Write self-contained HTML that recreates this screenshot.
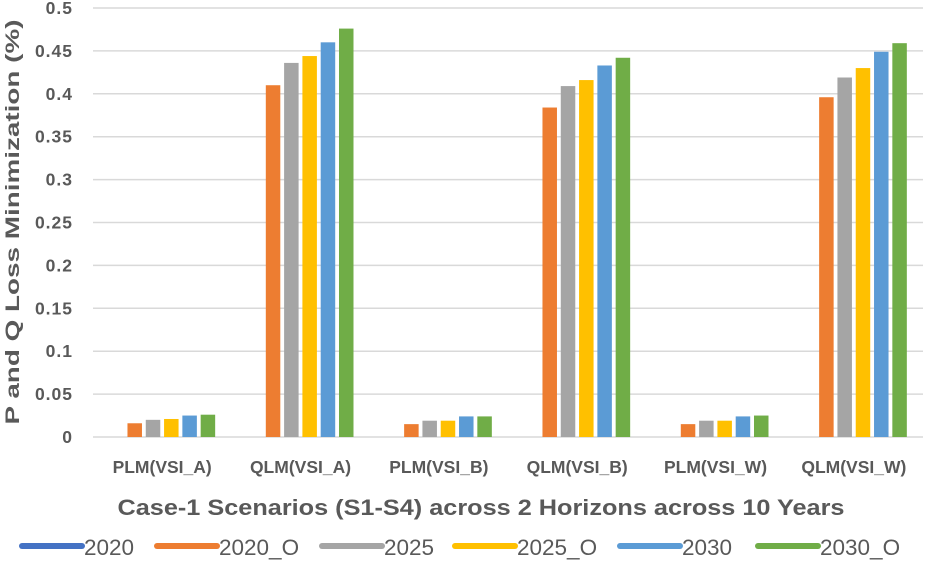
<!DOCTYPE html>
<html><head><meta charset="utf-8"><style>
body{margin:0;width:926px;height:567px;background:#fff;overflow:hidden;font-family:"Liberation Sans",sans-serif}
</style></head><body>
<svg id="chart" width="926" height="567" xmlns="http://www.w3.org/2000/svg" font-family="Liberation Sans, sans-serif">
<g id="grid"></g><g id="bars"></g><g id="ylabels"></g><g id="xlabels"></g>
<text transform="translate(19,222) rotate(-90)" text-anchor="middle" font-size="19" font-weight="bold" fill="#595959" textLength="405" lengthAdjust="spacingAndGlyphs">P and Q Loss Minimization (%)</text>
<text x="481" y="515" text-anchor="middle" font-size="22" font-weight="bold" fill="#595959" textLength="727" lengthAdjust="spacingAndGlyphs">Case-1 Scenarios (S1-S4) across 2 Horizons across 10 Years</text>
<g id="legend"></g>
</svg>
<script>
const categories=["PLM(VSI_A)","QLM(VSI_A)","PLM(VSI_B)","QLM(VSI_B)","PLM(VSI_W)","QLM(VSI_W)"];
const seriesNames=["2020","2020_O","2025","2025_O","2030","2030_O"];
const s2020=[0,0,0,0,0,0];
const s2020O=[0.016,0.410,0.015,0.384,0.015,0.396];
const s2025=[0.020,0.436,0.019,0.409,0.019,0.419];
const s2025O=[0.021,0.444,0.019,0.416,0.019,0.430];
const s2030=[0.025,0.460,0.024,0.433,0.024,0.449];
const s2030O=[0.026,0.476,0.024,0.442,0.025,0.459];
const yTicks=[0,0.05,0.1,0.15,0.2,0.25,0.3,0.35,0.4,0.45,0.5];
const yTickLabels=["0","0.05","0.1","0.15","0.2","0.25","0.3","0.35","0.4","0.45","0.5"];
const colors=["#4472C4","#ED7D31","#A5A5A5","#FFC000","#5B9BD5","#70AD47"];
const series=[s2020,s2020O,s2025,s2025O,s2030,s2030O];
const NS="http://www.w3.org/2000/svg";
const L=93,R=923,Y0=437,Y1=8;
const y=v=>Y0-(v/0.5)*(Y0-Y1);
const cw=(R-L)/categories.length;
const x=i=>L+cw*(i+0.5);
const bw=14.5,step=18.3;
function mk(t,a,p){const e=document.createElementNS(NS,t);for(const k in a)e.setAttribute(k,a[k]);document.getElementById(p).appendChild(e);return e;}
yTicks.forEach((t,i)=>{
 const g=mk('line',{x1:L,x2:R,y1:y(t),y2:y(t),stroke:'#d9d9d9','stroke-width':1.5},'grid');
 
 
 const tx=mk('text',{x:73,y:y(t)+6,'text-anchor':'end','font-size':17.5,'font-weight':'bold',fill:'#595959','letter-spacing':'1'},'ylabels');
 tx.textContent=yTickLabels[i];
 
 
});
categories.forEach((c,i)=>{
 const tx=mk('text',{x:x(i),y:473,'text-anchor':'middle','font-size':17.5,'font-weight':'bold',fill:'#595959'},'xlabels');
 tx.textContent=c;
 
 
 series.forEach((s,j)=>{
  const bx=x(i)+(j-2.5)*step-bw/2;
  const r=mk('rect',{x:bx,y:y(s[i]),width:bw,height:Y0-y(s[i]),fill:colors[j]},'bars');
  
  
 });
});
const legX=[22,157,322,455,620,758];
seriesNames.forEach((n,j)=>{
 const ln=mk('line',{x1:legX[j],x2:legX[j]+60,y1:546,y2:546,stroke:colors[j],'stroke-width':6,'stroke-linecap':'round'},'legend');
 
 
 const tx=mk('text',{x:legX[j]+62,y:555,'font-size':22.5,fill:'#595959'},'legend');
 tx.textContent=n;
 
 
});
</script>
</body></html>
